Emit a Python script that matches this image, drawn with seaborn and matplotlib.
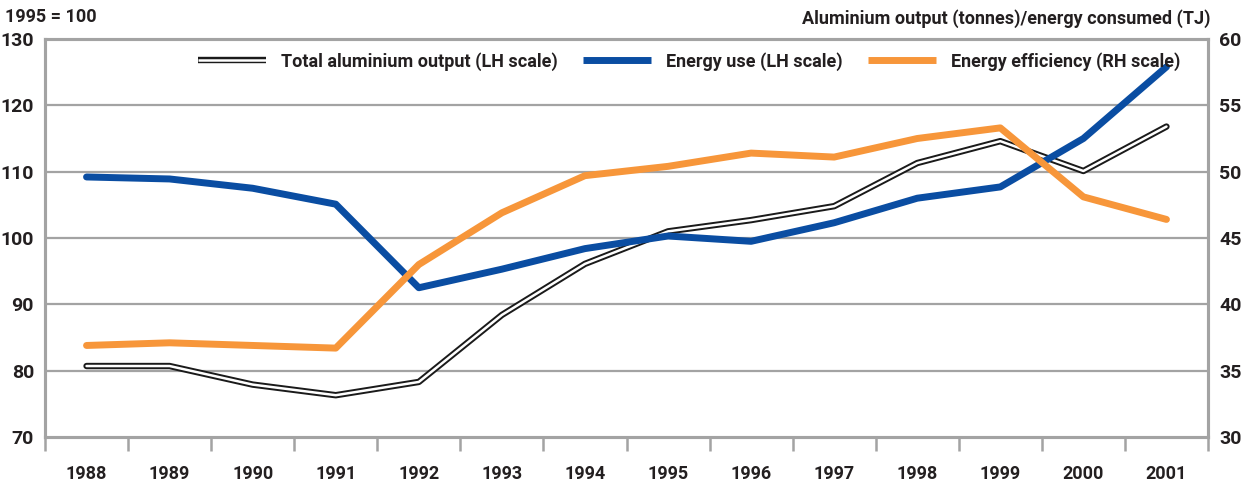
import numpy as np
import pandas as pd
import matplotlib
matplotlib.use("Agg")
import matplotlib.pyplot as plt
import seaborn as sns
from matplotlib.lines import Line2D
from matplotlib.legend_handler import HandlerTuple

years = ["1988", "1989", "1990", "1991", "1992", "1993", "1994",
         "1995", "1996", "1997", "1998", "1999", "2000", "2001"]
total_output = [80.7, 80.7, 77.9, 76.3, 78.3, 88.4, 96.1,
                101.0, 102.7, 104.8, 111.3, 114.6, 110.1, 116.8]
energy_use = [109.2, 108.9, 107.5, 105.1, 92.5, 95.3, 98.4,
              100.3, 99.5, 102.3, 106.0, 107.7, 115.0, 125.8]
efficiency = [36.9, 37.1, 36.9, 36.7, 43.0, 46.9, 49.7,
              50.4, 51.4, 51.1, 52.5, 53.3, 48.1, 46.4]

sns.set_theme(style="white")
FONT = ["Roboto", "DejaVu Sans"]
plt.rcParams["font.family"] = FONT
plt.rcParams["font.weight"] = "bold"

TXT = "#231f20"
GRID = "#a3a3a3"
BLUE = "#0a4da2"
ORANGE = "#f7963a"

df = pd.DataFrame({"x": np.arange(len(years)), "total": total_output,
                   "energy": energy_use, "eff": efficiency})

fig = plt.figure(figsize=(12.45, 4.83), dpi=100)
ax = fig.add_axes([45/1245, 46/483, (1208-45)/1245, (437-39)/483])
ax2 = ax.twinx()

for v in range(80, 130, 10):
    ax.axhline(v, color=GRID, lw=1.6, zorder=0)

sns.lineplot(data=df, x="x", y="total", ax=ax, color="#1a1a1a", lw=4.6, zorder=3)
sns.lineplot(data=df, x="x", y="total", ax=ax, color="white", lw=1.8, zorder=4)
sns.lineplot(data=df, x="x", y="energy", ax=ax, color=BLUE, lw=5, zorder=5)
sns.lineplot(data=df, x="x", y="eff", ax=ax2, color=ORANGE, lw=5, zorder=5)

ax.set_zorder(2)
ax.patch.set_visible(False)
ax2.set_zorder(3)
ax2.patch.set_visible(False)

ax.set_xlim(-0.5, len(years) - 0.5)
ax.set_ylim(70, 130)
ax2.set_ylim(30, 60)
ax.set_xlabel("")
ax.set_ylabel("")
ax2.set_ylabel("")

ax.set_xticks(np.arange(len(years)))
ax.set_xticklabels(years)
ax.set_xticks(np.arange(-0.5, len(years), 1.0), minor=True)
ax.tick_params(axis="x", which="major", length=0, pad=20, labelsize=13, labelcolor=TXT)
ax.tick_params(axis="x", which="minor", length=10, width=1.8, color=GRID, direction="out", bottom=True)
ax.set_yticks(range(70, 131, 10))
ax.tick_params(axis="y", length=0, pad=8, labelsize=14, labelcolor=TXT)
ax2.set_yticks(range(30, 61, 5))
ax2.tick_params(axis="y", length=0, pad=8, labelsize=14, labelcolor=TXT)

for a in (ax, ax2):
    for s in a.spines.values():
        s.set_visible(True)
        s.set_color(GRID)
        s.set_linewidth(2.2)
    for lab in a.get_xticklabels() + a.get_yticklabels():
        lab.set_fontweight("bold")

fig.text(5/1245, 1 - 17/483, "1995 = 100", ha="left", va="center",
         fontsize=13, fontweight="bold", color=TXT)
fig.text(1210/1245, 1 - 19/483, "Aluminium output (tonnes)/energy consumed (TJ)",
         ha="right", va="center", fontsize=13, fontweight="bold", color=TXT)

h_total = (Line2D([], [], color="#1a1a1a", lw=4.6, solid_capstyle="butt"),
           Line2D([], [], color="white", lw=1.8, solid_capstyle="butt"))
h_energy = Line2D([], [], color=BLUE, lw=5, solid_capstyle="butt")
h_eff = Line2D([], [], color=ORANGE, lw=5, solid_capstyle="butt")
leg = ax2.legend([h_total, h_energy, h_eff],
                 ["Total aluminium output (LH scale)", "Energy use (LH scale)",
                  "Energy efficiency (RH scale)"],
                 handler_map={tuple: HandlerTuple(ndivide=1)},
                 loc="upper right", bbox_to_anchor=(0.99, 1.008), ncol=3, frameon=False,
                 handlelength=3.8, handletextpad=0.8, columnspacing=1.4,
                 prop={"size": 13, "weight": "bold"})
for t in leg.get_texts():
    t.set_color(TXT)

fig.savefig("out.png", dpi=100)
